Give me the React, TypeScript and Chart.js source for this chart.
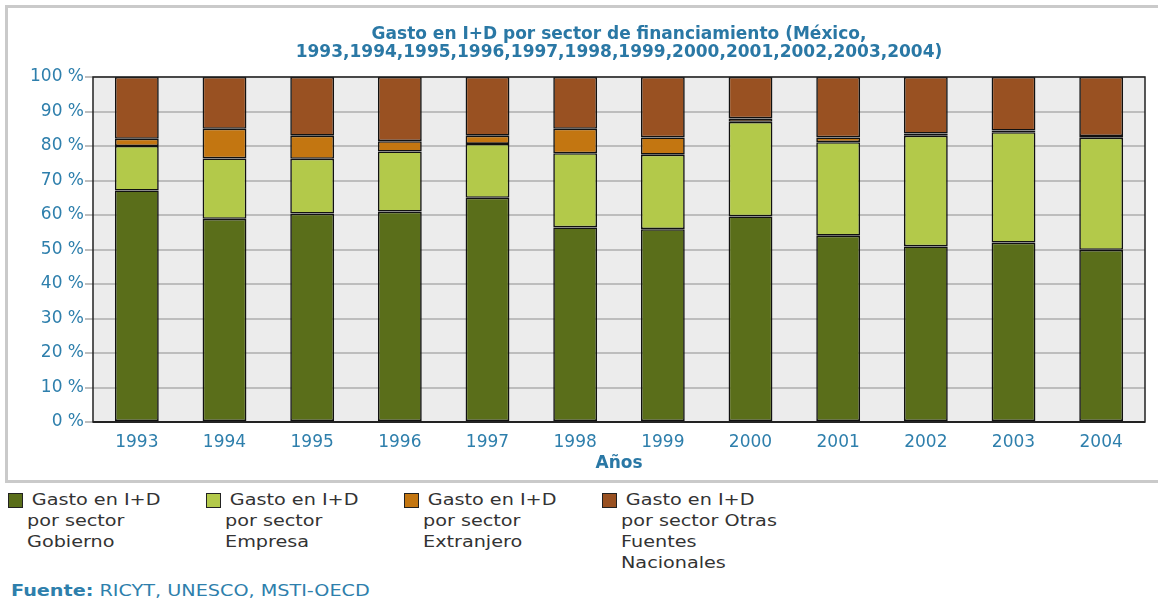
import React, { useEffect, useRef } from "react";
import { Chart, registerables } from "chart.js";

Chart.register(...registerables);

const years = ["1993", "1994", "1995", "1996", "1997", "1998", "1999", "2000", "2001", "2002", "2003", "2004"];
const gobierno = [67.1, 58.9, 60.4, 61.0, 65.0, 56.4, 55.9, 59.6, 54.0, 50.9, 52.0, 49.9];
const empresa = [12.9, 17.5, 15.9, 17.4, 15.6, 21.5, 21.6, 27.4, 27.1, 32.1, 32.0, 32.5];
const extranjero = [2.1, 8.6, 6.7, 3.0, 2.4, 7.1, 5.0, 1.0, 1.4, 0.6, 0.5, 0.5];
const otras = [17.9, 15.0, 17.0, 18.6, 17.0, 15.0, 17.5, 12.0, 17.5, 16.4, 15.5, 17.1];

const seriesLabels = [
  ["Gasto en I+D", "por sector", "Gobierno"],
  ["Gasto en I+D", "por sector", "Empresa"],
  ["Gasto en I+D", "por sector", "Extranjero"],
  ["Gasto en I+D", "por sector Otras", "Fuentes", "Nacionales"],
];
const seriesColors = ["#5a6e1a", "#b3c94a", "#c37611", "#995122"];

const titleLines = [
  "Gasto en I+D por sector de financiamiento (México,",
  "1993,1994,1995,1996,1997,1998,1999,2000,2001,2002,2003,2004)",
];
const xTitle = "Años";
const sourceLabel = "Fuente:";
const sourceText = "RICYT, UNESCO, MSTI-OECD";

const FONT = "'DejaVu Sans', Verdana, sans-serif";
const BLUE = "#2e7fac";
const TITLE_BLUE = "#2a78a5";

const plotFrame = {
  id: "plotFrame",
  beforeDraw(chart: any) {
    const { ctx, chartArea: a } = chart;
    ctx.save();
    ctx.fillStyle = "#ececec";
    ctx.fillRect(a.left, a.top, a.right - a.left, a.bottom - a.top);
    ctx.restore();
  },
  afterDatasetsDraw(chart: any) {
    const { ctx, chartArea: a } = chart;
    ctx.save();
    ctx.strokeStyle = "#222222";
    ctx.lineWidth = 1.5;
    ctx.strokeRect(a.left, a.top, a.right - a.left, a.bottom - a.top);
    ctx.lineWidth = 2;
    ctx.beginPath();
    ctx.moveTo(a.left, a.bottom);
    ctx.lineTo(a.right, a.bottom);
    ctx.stroke();
    ctx.restore();
  },
};

export default function App() {
  const canvasRef = useRef<HTMLCanvasElement | null>(null);

  useEffect(() => {
    if (!canvasRef.current) return;
    Chart.defaults.font.family = FONT;
    const seriesData = [gobierno, empresa, extranjero, otras];
    const chart = new Chart(canvasRef.current, {
      type: "bar",
      data: {
        labels: years,
        datasets: seriesData.map((d, i) => ({
          label: seriesLabels[i].join(" "),
          data: d,
          backgroundColor: seriesColors[i],
          borderColor: "#111111",
          borderWidth: 1.6,
          borderSkipped: false,
          barPercentage: 0.5,
          categoryPercentage: 1,
        })),
      },
      options: {
        responsive: false,
        animation: false,
        devicePixelRatio: 1,
        layout: { padding: { top: 17, right: 13, bottom: 0, left: 0 } },
        plugins: {
          legend: { display: false },
          tooltip: { enabled: false },
          title: {
            display: true,
            text: titleLines,
            fullSize: false,
            color: TITLE_BLUE,
            font: { size: 17, weight: "bold", family: FONT, lineHeight: 1.05 },
            padding: { top: 9, bottom: 15.3 },
          },
        },
        scales: {
          x: {
            stacked: true,
            grid: { display: false, drawTicks: false, tickLength: 0 },
            border: { display: false },
            ticks: { color: BLUE, font: { size: 17, family: FONT }, padding: 10 },
            title: {
              display: true,
              text: xTitle,
              color: TITLE_BLUE,
              font: { size: 17, weight: "bold", family: FONT },
              padding: { top: 0, bottom: 8 },
            },
            afterFit: (s: any) => {
              s.height = 60;
            },
          },
          y: {
            stacked: true,
            min: 0,
            max: 100,
            grid: { color: "#bdbdbd", lineWidth: 2, tickLength: 8 },
            border: { display: false },
            ticks: {
              stepSize: 10,
              color: BLUE,
              font: { size: 17, family: FONT },
              padding: 1,
              callback: (v: any) => `${v} %`,
            },
            afterFit: (s: any) => {
              s.width = 93;
            },
          },
        },
      },
      plugins: [plotFrame],
    });
    return () => chart.destroy();
  }, []);

  return (
    <div
      style={{
        position: "absolute",
        left: 0,
        top: 0,
        width: 1158,
        height: 601,
        overflow: "hidden",
        background: "#ffffff",
        fontFamily: FONT,
      }}
    >
      <div
        style={{
          position: "absolute",
          left: 5,
          top: 5,
          width: 1165,
          height: 478,
          border: "3px solid #cacaca",
          boxSizing: "border-box",
        }}
      />
      <canvas
        ref={canvasRef}
        width={1158}
        height={482}
        style={{ position: "absolute", left: 0, top: 0, width: 1158, height: 482 }}
      />
      {seriesLabels.map((lines, i) => (
        <div
          key={i}
          style={{
            position: "absolute",
            left: 7 + i * 198,
            top: 489,
            width: 190,
            height: 90,
            fontSize: 16,
            lineHeight: "21px",
            color: "#333333",
          }}
        >
          <div
            style={{
              position: "absolute",
              left: 1,
              top: 4,
              width: 15,
              height: 15,
              background: seriesColors[i],
              border: "1px solid #222",
              boxSizing: "border-box",
            }}
          />
          <div
            style={{
              position: "absolute",
              left: 20,
              top: 0,
              textIndent: 4,
              whiteSpace: "nowrap",
              transform: "scaleX(1.2)",
              transformOrigin: "left top",
            }}
          >
            {lines.map((ln, j) => (
              <React.Fragment key={j}>
                {ln}
                {j < lines.length - 1 ? <br /> : null}
              </React.Fragment>
            ))}
          </div>
        </div>
      ))}
      <div
        style={{
          position: "absolute",
          left: 11,
          top: 581,
          fontSize: 16,
          lineHeight: "20px",
          color: BLUE,
          whiteSpace: "nowrap",
          transform: "scaleX(1.2)",
          transformOrigin: "left top",
        }}
      >
        <b>{sourceLabel}</b> {sourceText}
      </div>
    </div>
  );
}
